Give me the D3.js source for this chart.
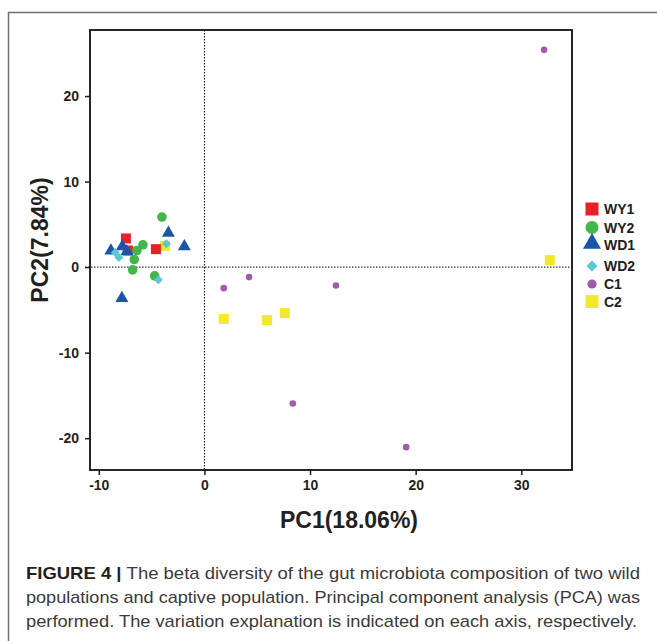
<!DOCTYPE html>
<html>
<head>
<meta charset="utf-8">
<script src="https://cdnjs.cloudflare.com/ajax/libs/d3/7.8.5/d3.min.js"></script>
<style>
    body { margin: 0; background: #fff; }
    svg { display: block; }
</style>
</head>
<body>
<div id="chart"></div>
<script>
var WIDTH = 657;
var HEIGHT = 641;

// Sample scores, [PC1, PC2] per point.
var wy1Points = [[-7.43, 3.35], [-7.24, 1.94], [-4.59, 2.1]];
var wy2Points = [[-4.02, 5.85], [-5.82, 2.61], [-6.39, 1.94], [-6.64, 0.89], [-6.8, -0.32], [-4.71, -1.02]];
var wd1Points = [[-8.85, 1.91], [-7.77, 2.41], [-7.34, 1.83], [-3.41, 3.98], [-1.9, 2.41], [-7.81, -3.63]];
var wd2Points = [[-8.44, 1.71], [-8.09, 1.12], [-3.6, 2.72], [-4.36, -1.49]];
var c1Points = [[1.83, -2.46], [4.23, -1.17], [12.45, -2.15], [8.37, -15.95], [19.1, -21.05], [32.16, 25.4]];
var c2Points = [[1.83, -6.05], [5.93, -6.2], [7.61, -5.38], [32.7, 0.82], [-3.73, 2.49]];

var groupNames = ['WY1', 'WY2', 'WD1', 'WD2', 'C1', 'C2'];
var xTicks = [-10, 0, 10, 20, 30];
var yTicks = [20, 10, 0, -10, -20];

var xLabel = 'PC1(18.06%)';
var yLabel = 'PC2(7.84%)';
var captionLines = [
    ['FIGURE 4 | ', 'The beta diversity of the gut microbiota composition of two wild'],
    ['', 'populations and captive population. Principal component analysis (PCA) was'],
    ['', 'performed. The variation explanation is indicated on each axis, respectively.']
];
var captionWidths = [614, 614, 611];

var LEFT = 90, RIGHT = 572, TOP = 30, BOTTOM = 470;
var INK = '#231f20';

var groups = [
    {name: 'C2', points: c2Points, color: '#f4e82a', shape: 'square', size: 10, legendSize: 13},
    {name: 'C1', points: c1Points, color: '#a25bab', shape: 'circle', size: 3.3, legendSize: 4.6},
    {name: 'WY1', points: wy1Points, color: '#e8202a', shape: 'square', size: 10, legendSize: 13},
    {name: 'WY2', points: wy2Points, color: '#41b649', shape: 'circle', size: 4.8, legendSize: 6.5},
    {name: 'WD1', points: wd1Points, color: '#1a56a5', shape: 'triangle', size: 13, legendSize: 18},
    {name: 'WD2', points: wd2Points, color: '#5cc6d6', shape: 'diamond', size: 9, legendSize: 11}
];

var x = d3.scaleLinear().domain([-10.83, 34.8]).range([LEFT, RIGHT]);
var y = d3.scaleLinear().domain([-23.72, 27.72]).range([BOTTOM, TOP]);

/**
 * Returns a path string for a marker of a given shape.
 * size is the side (square, triangle), radius (circle) or width (diamond).
 */
var markerPath = function markerPath(shape, size) {
    if (shape === 'square') {
        return d3.symbol(d3.symbolSquare, size * size)();
    }
    if (shape === 'circle') {
        return d3.symbol(d3.symbolCircle, Math.PI * size * size)();
    }
    if (shape === 'triangle') {
        return d3.symbol(d3.symbolTriangle, size * size * Math.sqrt(3) / 4)();
    }
    var h = size / 2;
    return 'M0,' + (-h) + 'L' + h + ',0L0,' + h + 'L' + (-h) + ',0Z';
};

var svg = d3.select('#chart')
    .append('svg')
    .attr('width', WIDTH)
    .attr('height', HEIGHT)
    .style('font-family', '"Liberation Sans", Arial, sans-serif');

// Outer figure frame (only top and left edges are visible)
svg.append('path')
    .attr('d', 'M8.5,' + HEIGHT + 'V12.5H' + WIDTH)
    .attr('fill', 'none')
    .attr('stroke', '#707070')
    .attr('stroke-width', 1.5);

// Zero reference lines
svg.append('line')
    .attr('x1', x(0)).attr('x2', x(0))
    .attr('y1', TOP).attr('y2', BOTTOM)
    .attr('stroke', '#000')
    .attr('stroke-width', 1)
    .attr('stroke-dasharray', '1.5,1.5');

svg.append('line')
    .attr('x1', LEFT - 5).attr('x2', RIGHT)
    .attr('y1', y(0)).attr('y2', y(0))
    .attr('stroke', '#000')
    .attr('stroke-width', 1)
    .attr('stroke-dasharray', '1.5,1.5');

// Axes (plain hyphen for negatives, like the original)
var plainFormat = function(d) { return String(d); };

var xAxis = svg.append('g')
    .attr('transform', 'translate(0,' + BOTTOM + ')')
    .call(d3.axisBottom(x).tickValues(xTicks).tickFormat(plainFormat)
        .tickSize(5).tickSizeOuter(0).tickPadding(5));

var yAxis = svg.append('g')
    .attr('transform', 'translate(' + LEFT + ',0)')
    .call(d3.axisLeft(y).tickValues(yTicks).tickFormat(plainFormat)
        .tickSize(5).tickSizeOuter(0).tickPadding(6));

[xAxis, yAxis].forEach(function(ax) {
    ax.select('.domain').remove();
    ax.selectAll('.tick line').attr('stroke', INK).attr('stroke-width', 1.5);
    ax.selectAll('.tick text')
        .attr('fill', INK)
        .style('font-size', '14px')
        .style('font-weight', 'bold')
        .style('font-family', '"Liberation Sans", Arial, sans-serif');
});

// Plot box
svg.append('rect')
    .attr('x', LEFT).attr('y', TOP)
    .attr('width', RIGHT - LEFT)
    .attr('height', BOTTOM - TOP)
    .attr('fill', 'none')
    .attr('stroke', '#111')
    .attr('stroke-width', 1.8);

// Points
groups.forEach(function(grp) {
    svg.append('g').selectAll('path')
        .data(grp.points)
        .enter()
        .append('path')
            .attr('d', markerPath(grp.shape, grp.size))
            .attr('transform', function(d) {
                return 'translate(' + x(d[0]) + ',' + y(d[1]) + ')';
            })
            .attr('fill', grp.color);
});

// Legend
var legendY = [209, 227.5, 244.5, 266, 284, 301.5];
var legend = svg.append('g');
groupNames.forEach(function(name, i) {
    var grp = groups.filter(function(g) { return g.name === name; })[0];
    var row = legend.append('g').attr('transform', 'translate(592,' + legendY[i] + ')');
    row.append('path')
        .attr('d', markerPath(grp.shape, grp.legendSize))
        .attr('transform', grp.shape === 'triangle' ? 'translate(0,-1)' : null)
        .attr('fill', grp.color);
    row.append('text')
        .attr('x', 12)
        .attr('y', 5)
        .attr('fill', INK)
        .style('font-size', '14px')
        .style('font-weight', 'bold')
        .text(name);
});

// Axis titles
svg.append('text')
    .attr('x', (LEFT + RIGHT) / 2 + 18)
    .attr('y', 528)
    .attr('text-anchor', 'middle')
    .attr('fill', INK)
    .style('font-size', '23px')
    .style('font-weight', 'bold')
    .text(xLabel);

svg.append('text')
    .attr('transform', 'translate(48,' + 240 + ') rotate(-90)')
    .attr('text-anchor', 'middle')
    .attr('fill', INK)
    .style('font-size', '23px')
    .style('font-weight', 'bold')
    .text(yLabel);

// Caption, stretched to the width the original lines take
var caption = svg.append('g').style('font-family', '"Liberation Sans", Arial, sans-serif');
captionLines.forEach(function(line, i) {
    var t = caption.append('text')
        .attr('x', 26)
        .attr('y', 579 + i * 24)
        .attr('textLength', captionWidths[i])
        .attr('lengthAdjust', 'spacingAndGlyphs')
        .style('font-size', '17px')
        .attr('fill', '#3a3a3a');
    if (line[0]) {
        t.append('tspan').style('font-weight', 'bold').attr('fill', INK).text(line[0]);
    }
    t.append('tspan').text(line[1]);
});
</script>
</body>
</html>
